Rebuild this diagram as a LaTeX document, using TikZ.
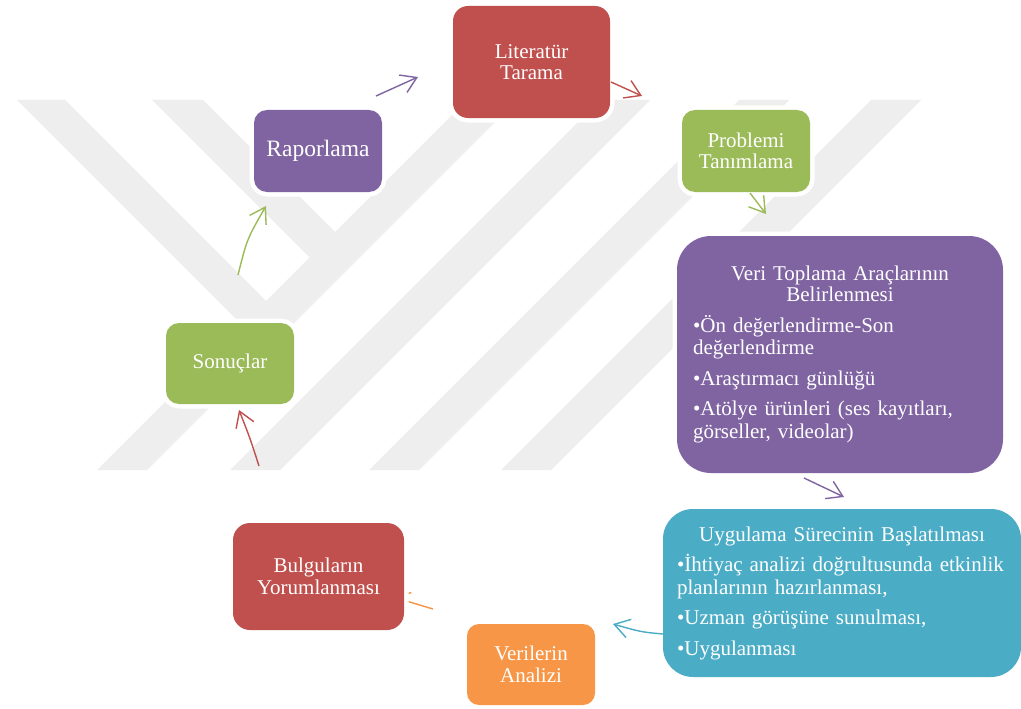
\documentclass[tikz,border=0pt]{standalone}
\usepackage{fontspec}
\setmainfont{Liberation Serif}
\usetikzlibrary{arrows.meta}
\definecolor{cred}{HTML}{C0504D}
\definecolor{cpurple}{HTML}{8064A2}
\definecolor{cgreen}{HTML}{9BBB59}
\definecolor{cteal}{HTML}{4BACC6}
\definecolor{corange}{HTML}{F79646}
\definecolor{wmark}{RGB}{238,238,238}
\begin{document}
\begin{tikzpicture}[x=1pt,y=-1pt,
  box/.style={rectangle, fill=#1, text=white, preaction={draw=white, line width=9pt}, inner sep=0pt},
  small/.style={align=center, font=\fontsize{21}{21.5}\selectfont},
  big/.style={font=\fontsize{21}{22.5}\selectfont},
  arr/.style={draw=#1, line width=1.4pt, -{Straight Barb[length=15pt,width=19pt]}}]
\useasboundingbox (0,0) rectangle (1021,709);
\clip (0,0) rectangle (1021,709);
\fill[white] (0,0) rectangle (1021,709);
% watermark
\fill[wmark] (467,100)--(517,100)--(147,470)--(97,470)--cycle;
\fill[wmark] (600,100)--(650,100)--(280,470)--(230,470)--cycle;
\fill[wmark] (739,100)--(789,100)--(419,470)--(369,470)--cycle;
\fill[wmark] (871,100)--(921,100)--(551,470)--(501,470)--cycle;
\fill[wmark] (17,100)--(65,100)--(266,301)--(242,325)--cycle;
\fill[wmark] (152,100)--(203,100)--(335,232)--(309.5,257.5)--cycle;
% connector end points
\coordinate (a1s) at (376,96);  \coordinate (a1e) at (418,77);
\coordinate (a2s) at (611,82);  \coordinate (a2e) at (642,96);
\coordinate (a3s) at (750,193); \coordinate (a3e) at (766,214);
\coordinate (a4s) at (804,478); \coordinate (a4e) at (844,497);
\coordinate (a5s) at (663,634); \coordinate (a5c) at (641,632); \coordinate (a5e) at (613,624);
\coordinate (a6s) at (433,609); \coordinate (a6e) at (393,597);
\coordinate (a7s) at (259,466); \coordinate (a7c) at (250,438); \coordinate (a7e) at (239,410);
\coordinate (a8s) at (238,275); \coordinate (a8c) at (247,239); \coordinate (a8e) at (266,206);
\draw[arr=corange] (a6s) -- (a6e);
% boxes
\node[box=cred, small, minimum width=157, minimum height=112, rounded corners=15pt] (lit) at (531.5,62) {Literatür\\Tarama};
\node[box=cpurple, minimum width=128, minimum height=82, rounded corners=13pt, font=\fontsize{23.5}{24}\selectfont] (rap) at (318,151) {Raporlama};
\node[box=cgreen, small, minimum width=128, minimum height=82, rounded corners=13pt] (prob) at (746,151) {Problemi\\Tanımlama};
\node[box=cpurple, big, minimum width=326, minimum height=237, rounded corners=34pt, text width=294] (veri) at (840,354.5)
  {{\centering\baselineskip=21pt Veri Toplama Araçlarının\\Belirlenmesi\par}\parskip=8pt
   •Ön değerlendirme-Son\\değerlendirme\par
   •Araştırmacı günlüğü\par
   •Atölye ürünleri (ses kayıtları,\\görseller, videolar)\par};
\node[box=cteal, big, minimum width=358, minimum height=168, rounded corners=30pt, text width=330] (uyg) at (842,593)
  {{\centering Uygulama Sürecinin Başlatılması\par}\parskip=8pt
   \makebox[\linewidth][s]{•İhtiyaç analizi doğrultusunda etkinlik}\\planlarının hazırlanması,\par
   •Uzman görüşüne sunulması,\par
   •Uygulanması\par};
\node[box=corange, small, minimum width=128, minimum height=81, rounded corners=12pt] (ver) at (531,664.5) {Verilerin\\Analizi};
\node[box=cred, small, minimum width=171, minimum height=107, rounded corners=17pt] (bul) at (318.5,576.5) {Bulguların\\Yorumlanması};
\node[box=cgreen, small, minimum width=128, minimum height=81, rounded corners=13pt] (son) at (230,363.5) {Sonuçlar};
% connectors
\draw[arr=cpurple] (a1s) -- (a1e);
\draw[arr=cred] (a2s) -- (a2e);
\draw[arr=cgreen] (a3s) -- (a3e);
\draw[arr=cpurple] (a4s) -- (a4e);
\draw[arr=cteal] (a5s) .. controls (a5c) .. (a5e);
\draw[arr=cred] (a7s) .. controls (a7c) .. (a7e);
\draw[arr=cgreen] (a8s) .. controls (a8c) .. (a8e);
\end{tikzpicture}
\end{document}
